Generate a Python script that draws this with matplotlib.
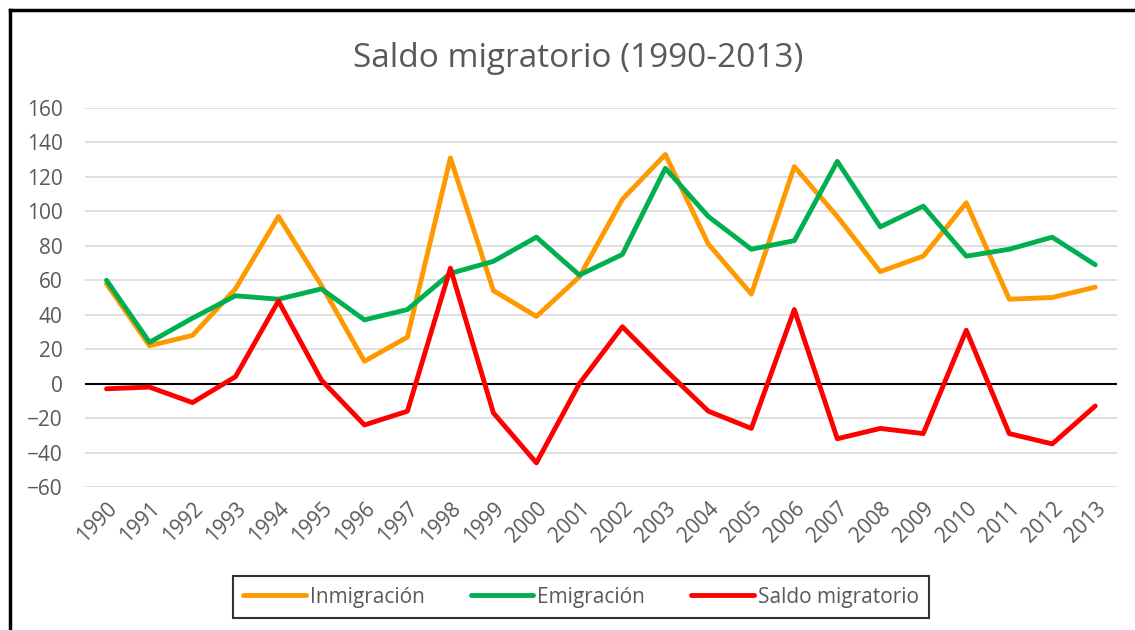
import numpy as np
import matplotlib.pyplot as plt
from matplotlib.lines import Line2D

plt.rcParams['font.family'] = ['Open Sans', 'DejaVu Sans']

years = [str(y) for y in range(1990, 2014)]
inmigracion = [58, 22, 28, 55, 97, 57, 13, 27, 131, 54, 39, 62,
               107, 133, 81, 52, 126, 97, 65, 74, 105, 49, 50, 56]
emigracion = [60, 24, 38, 51, 49, 55, 37, 43, 64, 71, 85, 63,
              75, 125, 97, 78, 83, 129, 91, 103, 74, 78, 85, 69]
saldo = [-3, -2, -11, 4, 48, 2, -24, -16, 67, -17, -46, 0,
         33, 8, -16, -26, 43, -32, -26, -29, 31, -29, -35, -13]

fig = plt.figure(figsize=(11.35, 6.3), dpi=100)
ax = fig.add_axes([0.0749, 0.227, 0.909, 0.6016])

x = np.arange(len(years))
ax.plot(x, inmigracion, color="#FF9900", lw=3.5, label="Inmigración", solid_capstyle="round")
ax.plot(x, emigracion, color="#00B050", lw=3.5, label="Emigración", solid_capstyle="round")
ax.plot(x, saldo, color="#FF0000", lw=3.5, label="Saldo migratorio", solid_capstyle="round")

ax.axhline(0, color="black", lw=1.5, zorder=1)
ax.set_ylim(-60, 160)
ax.set_xlim(-0.5, len(years) - 0.5)
ax.set_yticks(range(-60, 161, 20))
ax.yaxis.grid(True, color="#D9D9D9", lw=1.2)
ax.set_axisbelow(True)
for s in ax.spines.values():
    s.set_visible(False)

ax.set_xticks(x)
ax.set_xticklabels(years, rotation=45, ha="right", rotation_mode="anchor")
ax.tick_params(axis="both", length=0, labelsize=15, labelcolor="#595959")
ax.tick_params(axis="y", pad=16)
ax.tick_params(axis="x", pad=8)

fig.text(0.509, 0.907, "Saldo migratorio (1990-2013)", ha="center", va="center",
         fontsize=24, color="#595959")

leg = fig.legend(loc="center", bbox_to_anchor=(0.512, 0.052), ncol=3,
                 fontsize=15, frameon=True, fancybox=False, handlelength=3.0,
                 handletextpad=0.2, columnspacing=2.2, borderpad=0.5)
leg.get_frame().set_edgecolor("black")
leg.get_frame().set_linewidth(1.5)
for t in leg.get_texts():
    t.set_color("#595959")

# outer border (left and top visible)
fig.add_artist(Line2D([0.0088, 0.0088], [0, 0.984], color="black", lw=2.5))
fig.add_artist(Line2D([0.0088, 1.0], [0.984, 0.984], color="black", lw=2.5))

fig.savefig("out.png", dpi=100)
